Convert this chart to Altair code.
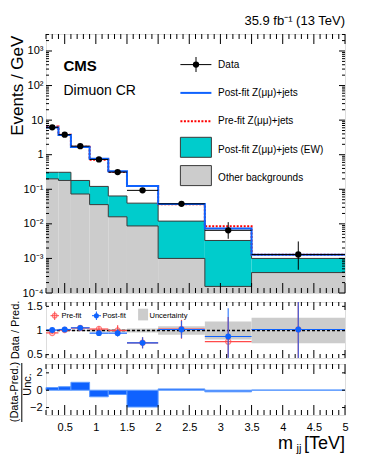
import altair as alt
import pandas as pd

FONT = "Liberation Sans"

# ---------------- data ----------------
edges = [0.2, 0.4, 0.6, 0.9, 1.2, 1.5, 2.0, 2.75, 3.5, 5.0]
centers = [0.3, 0.5, 0.75, 1.05, 1.35, 1.75, 2.375, 3.125, 4.25]

data_vals = [6.2, 3.8, 1.77, 0.73, 0.314, 0.093, 0.038, 0.0065, 0.0013]
data_up = [6.6, 4.05, 1.87, 0.78, 0.345, 0.104, 0.042, 0.0112, 0.0031]
data_dn = [5.8, 3.55, 1.67, 0.68, 0.285, 0.082, 0.034, 0.0037, 0.00047]
postfit = [6.1, 3.73, 1.68, 0.77, 0.332, 0.125, 0.0373, 0.0074, 0.00127]
prefit = [6.55, 3.76, 1.69, 0.71, 0.314, 0.125, 0.0369, 0.0085, 0.00127]
other_bkg = [0.20, 0.18, 0.073, 0.036, 0.016, 0.0087, 0.001, 0.000155, 0.00039]
ew_bkg = [0.11, 0.13, 0.107, 0.085, 0.048, 0.031, 0.011, 0.00315, 0.00061]

post_ratio = [1.01, 1.02, 1.055, 0.945, 0.945, 0.745, 1.02, 0.875, 1.02]
post_lo = [0.98, 0.99, 1.015, 0.90, 0.87, 0.63, 0.84, 0.30, 0.0]
post_hi = [1.04, 1.05, 1.095, 0.99, 1.02, 0.86, 1.20, 1.46, 2.0]
pre_ratio = [0.95, 1.01, 1.05, 1.03, 1.0, 0.745, 1.03, 0.77, 1.02]
pre_lo = [0.92, 0.98, 1.01, 0.98, 0.89, 0.63, 0.83, 0.44, 0.0]
pre_hi = [0.98, 1.04, 1.09, 1.08, 1.11, 0.86, 1.22, 1.28, 2.0]
unc_half = [0.01, 0.01, 0.015, 0.025, 0.03, 0.04, 0.088, 0.185, 0.265]
pull = [0.3, 0.4, 0.91, -0.76, -0.5, -1.94, 0.15, -0.19, 0.02]

legend_labels = ["Data", "Post-fit Z(μμ)+jets", "Pre-fit Z(μμ)+jets",
                 "Post-fit Z(μμ)+jets (EW)", "Other backgrounds"]
x_tick_labels = [0.5, 1, 1.5, 2, 2.5, 3, 3.5, 4, 4.5, 5]

# ---------------- tables ----------------
bins = pd.DataFrame({
    "lo": edges[:-1], "hi": edges[1:], "c": centers,
    "data": data_vals, "dup": data_up, "ddn": data_dn,
    "other": other_bkg,
    "bkg": [o + e for o, e in zip(other_bkg, ew_bkg)],
    "post_r": post_ratio, "post_lo": post_lo, "post_hi": post_hi,
    "pre_r": pre_ratio, "pre_lo": pre_lo, "pre_hi": pre_hi,
    "u_lo": [1 - u for u in unc_half], "u_hi": [1 + u for u in unc_half],
    "pull": pull,
})
steps = pd.DataFrame({
    "x": edges,
    "other": other_bkg + [other_bkg[-1]],
    "bkg": list(bins["bkg"]) + [bins["bkg"].iloc[-1]],
    "post": postfit + [postfit[-1]],
    "pre": prefit + [prefit[-1]],
})

W = 299
H_MAIN = 259
H_RAT = 56
H_PULL = 51

BLUE = "#0f62fe"
CYAN = "#00cccc"
GRAY = "#cccccc"
RED = "#ff4a4a"

xs = alt.Scale(domain=[0.2, 5.0], nice=False, zero=False)
ylog = alt.Scale(type="log", domain=[1e-4, 3100], nice=False)
yrat = alt.Scale(domain=[0.43, 1.59], nice=False, zero=False)
ypull = alt.Scale(domain=[-2.86, 3.02], nice=False, zero=False)

one = pd.DataFrame({"a": [0]})

log_expr = ("datum.value >= 999 ? '10³' : datum.value >= 99 ? '10²' : "
            "datum.value >= 9 ? '10' : datum.value >= 0.9 ? '1' : "
            "datum.value >= 0.09 ? '10⁻¹' : datum.value >= 0.009 ? '10⁻²' : "
            "datum.value >= 0.0009 ? '10⁻³' : '10⁻⁴'")
yaxis_main = alt.Axis(values=[1e-4, 1e-3, 1e-2, 1e-1, 1, 10, 100, 1000], labelExpr=log_expr,
                      ticks=False, domain=False, grid=False, title=None,
                      labelFontSize=11, labelPadding=3, labelColor="black", labelFont=FONT)
yaxis_rat = alt.Axis(values=[0.5, 1, 1.5], format="~g", ticks=False, domain=False, grid=False,
                     title=None, labelFontSize=11, labelPadding=4, labelColor="black", labelFont=FONT)
yaxis_pull = alt.Axis(values=[-2, 0, 2], format="~g", ticks=False, domain=False, grid=False,
                      title=None, labelFontSize=11, labelPadding=4, labelColor="black", labelFont=FONT)
xaxis_pull = alt.Axis(values=x_tick_labels, format="~g", ticks=False, domain=False, grid=False,
                      title=None, labelFontSize=11, labelPadding=6, labelColor="black",
                      labelFont=FONT, labelFlush=False)


def txt(text, x, y, size, align="left", baseline="middle", weight="normal", angle=0, color="black"):
    return alt.Chart(one).mark_text(text=text, font=FONT, fontSize=size, align=align,
                                    baseline=baseline, fontWeight=weight, angle=angle,
                                    color=color).encode(x=alt.value(x), y=alt.value(y))


def ticks(H, yscale, xaxis, yaxis, xmaj_len, xmin_len, ymaj, ymin, ymaj_len, ymin_len):
    xmaj = [0.5 * i for i in range(1, 11)]
    xmin = [round(0.1 * i, 1) for i in range(2, 50) if i % 5 != 0]
    layers = []
    for vals, L in ((xmaj, xmaj_len), (xmin, xmin_len)):
        d = pd.DataFrame({"v": vals})
        base = alt.Chart(d).mark_rule(color="black", strokeWidth=1)
        layers.append(base.encode(x=alt.X("v:Q", scale=xs, axis=xaxis),
                                  y=alt.value(H), y2=alt.value(H - L)))
        layers.append(base.encode(x=alt.X("v:Q", scale=xs, axis=xaxis),
                                  y=alt.value(0), y2=alt.value(L)))
    for vals, L in ((ymaj, ymaj_len), (ymin, ymin_len)):
        if not vals:
            continue
        d = pd.DataFrame({"v": vals})
        base = alt.Chart(d).mark_rule(color="black", strokeWidth=1)
        layers.append(base.encode(y=alt.Y("v:Q", scale=yscale, axis=yaxis),
                                  x=alt.value(0), x2=alt.value(L)))
        layers.append(base.encode(y=alt.Y("v:Q", scale=yscale, axis=yaxis),
                                  x=alt.value(W), x2=alt.value(W - L)))
    return layers


# ---------------- main panel ----------------
X = lambda f: alt.X(f"{f}:Q", scale=xs, axis=None)
YL = lambda f: alt.Y(f"{f}:Q", scale=ylog, axis=yaxis_main)

gray_fill = alt.Chart(bins).mark_rect(color=GRAY, clip=True).encode(
    x=X("lo"), x2="hi", y=YL("other"), y2=alt.value(H_MAIN))
cyan_fill = alt.Chart(bins).mark_rect(color=CYAN, clip=True).encode(
    x=X("lo"), x2="hi", y=YL("bkg"), y2="other")
step = lambda f, **kw: alt.Chart(steps).mark_line(interpolate="step-after", clip=True, **kw).encode(
    x=X("x"), y=YL(f))
other_line = step("other", color="#3a3a3a", strokeWidth=1)
bkg_line = step("bkg", color="#3a3a3a", strokeWidth=1)
pre_line = step("pre", color="#ff0000", strokeWidth=2, strokeDash=[2, 1.5])
post_line = step("post", color=BLUE, strokeWidth=2)

d_v = alt.Chart(bins).mark_rule(color="black", strokeWidth=1, clip=True).encode(
    x=X("c"), y=YL("ddn"), y2="dup")
d_h = alt.Chart(bins).mark_rule(color="black", strokeWidth=1, clip=True).encode(
    x=X("lo"), x2="hi", y=YL("data"))
d_p = alt.Chart(bins).mark_circle(color="black", size=40, opacity=1).encode(
    x=X("c"), y=YL("data"))

logmaj = [10.0 ** e for e in range(-4, 4)]
logmin = [m * 10.0 ** e for e in range(-4, 4) for m in range(2, 10) if m * 10.0 ** e < 3100]

LX0, LX1, LT = 134.4, 165.4, 172.1
legend = [
    alt.Chart(one).mark_rule(color="black", strokeWidth=1).encode(
        x=alt.value(LX0), x2=alt.value(LX1), y=alt.value(30.6)),
    alt.Chart(one).mark_rule(color="black", strokeWidth=1).encode(
        x=alt.value(150), y=alt.value(23), y2=alt.value(38)),
    alt.Chart(one).mark_circle(color="black", size=40, opacity=1).encode(
        x=alt.value(150), y=alt.value(30.6)),
    alt.Chart(one).mark_rule(color=BLUE, strokeWidth=2).encode(
        x=alt.value(LX0), x2=alt.value(LX1), y=alt.value(58.9)),
    alt.Chart(one).mark_rule(color="#ff0000", strokeWidth=2, strokeDash=[2, 1.5]).encode(
        x=alt.value(LX0), x2=alt.value(LX1), y=alt.value(87.3)),
    alt.Chart(one).mark_rect(color=CYAN, stroke="#3a3a3a", strokeWidth=1).encode(
        x=alt.value(LX0), x2=alt.value(LX1), y=alt.value(103.3), y2=alt.value(123.3)),
    alt.Chart(one).mark_rect(color=GRAY, stroke="#3a3a3a", strokeWidth=1).encode(
        x=alt.value(LX0), x2=alt.value(LX1), y=alt.value(131.6), y2=alt.value(151.6)),
]
for lab, yy in zip(legend_labels, [30.6, 58.9, 87.3, 115.6, 144.3]):
    legend.append(txt(lab, LT, yy, 10))

main = alt.layer(
    gray_fill, cyan_fill, other_line, bkg_line, pre_line, post_line, d_h, d_v, d_p,
    *ticks(H_MAIN, ylog, None, yaxis_main, 10, 5, logmaj, logmin, 6, 3),
    *legend,
    txt("CMS", 17.5, 31.6, 15, weight="bold"),
    txt("Dimuon CR", 17.5, 56.6, 14),
    txt("35.9 fb⁻¹ (13 TeV)", W, -12.9, 13, align="right"),
    txt("Events / GeV", -27.6, 1.6, 17, align="right", angle=270),
).properties(width=W, height=H_MAIN)

# ---------------- ratio panel ----------------
YR = lambda f: alt.Y(f"{f}:Q", scale=yrat, axis=yaxis_rat)
unc = alt.Chart(bins).mark_rect(color=GRAY).encode(x=X("lo"), x2="hi", y=YR("u_lo"), y2="u_hi")
ref = alt.Chart(pd.DataFrame({"r": [1.0]})).mark_rule(
    color="black", strokeDash=[3, 2], strokeWidth=1.5).encode(y=YR("r"))
pre_h = alt.Chart(bins).mark_rule(color=RED, strokeWidth=1.2, clip=True).encode(
    x=X("lo"), x2="hi", y=YR("pre_r"))
pre_v = alt.Chart(bins).mark_rule(color=RED, strokeWidth=1.2, clip=True).encode(
    x=X("c"), y=YR("pre_lo"), y2="pre_hi")
pre_p = alt.Chart(bins).mark_point(shape="circle", filled=False, color=RED, size=28,
                                   strokeWidth=1.2, clip=True).encode(x=X("c"), y=YR("pre_r"))
post_h = alt.Chart(bins).mark_rule(color=BLUE, strokeWidth=1.2, clip=True).encode(
    x=X("lo"), x2="hi", y=YR("post_r"))
post_v = alt.Chart(bins).mark_rule(color=BLUE, strokeWidth=1.2, opacity=0.8, clip=True).encode(
    x=X("c"), y=YR("post_lo"), y2="post_hi")
post_p = alt.Chart(bins).mark_circle(color=BLUE, size=34, opacity=1, clip=True).encode(
    x=X("c"), y=YR("post_r"))

rleg = [
    alt.Chart(one).mark_rule(color=RED, strokeWidth=1).encode(
        x=alt.value(4.5), x2=alt.value(13), y=alt.value(13.7)),
    alt.Chart(one).mark_rule(color=RED, strokeWidth=1).encode(
        x=alt.value(8.7), y=alt.value(9.5), y2=alt.value(18)),
    alt.Chart(one).mark_point(shape="circle", filled=False, color=RED, size=20, strokeWidth=1.2).encode(
        x=alt.value(8.7), y=alt.value(13.7)),
    txt("Pre-fit", 15.4, 13.7, 7.5),
    alt.Chart(one).mark_rule(color=BLUE, strokeWidth=1).encode(
        x=alt.value(46), x2=alt.value(55), y=alt.value(13.7)),
    alt.Chart(one).mark_rule(color=BLUE, strokeWidth=1).encode(
        x=alt.value(50.4), y=alt.value(9.5), y2=alt.value(18)),
    alt.Chart(one).mark_circle(color=BLUE, size=26, opacity=1).encode(
        x=alt.value(50.4), y=alt.value(13.7)),
    txt("Post-fit", 56.4, 13.7, 7.5),
    alt.Chart(one).mark_rect(color=GRAY).encode(
        x=alt.value(92.1), x2=alt.value(102.1), y=alt.value(6.7), y2=alt.value(18.4)),
    txt("Uncertainty", 103.5, 13.7, 7.5),
]

ratio = alt.layer(
    unc, ref, pre_h, pre_v, pre_p, post_h, post_v, post_p, *rleg,
    *ticks(H_RAT, yrat, None, yaxis_rat, 8, 4, [0.5, 1, 1.5], [], 3, 0),
    txt("Data / Pred.", -30.1, H_RAT / 2, 11, align="center", angle=270),
).properties(width=W, height=H_RAT)

# ---------------- pull panel ----------------
bars = alt.Chart(bins).mark_rect(color=BLUE, stroke="#5e9bff", strokeWidth=1).encode(
    x=alt.X("lo:Q", scale=xs, axis=xaxis_pull), x2="hi",
    y=alt.Y("pull:Q", scale=ypull, axis=yaxis_pull), y2=alt.datum(0))

pull_panel = alt.layer(
    bars,
    *ticks(H_PULL, ypull, xaxis_pull, yaxis_pull, 10, 5, [-2, 0, 2], [], 3, 0),
    txt("(Data-Pred.)", -30.6, H_PULL / 2 + 2.5, 11, align="center", angle=270),
    txt("Unc.", -17.6, H_PULL / 2 - 5, 11, align="center", angle=270),
    alt.Chart(one).mark_rule(color="black", strokeWidth=1).encode(
        x=alt.value(-24.2), y=alt.value(-1), y2=alt.value(58)),
    txt("[TeV]", W, H_PULL + 29, 18, align="right"),
    txt("jj", W - 43.5, H_PULL + 34, 11, align="right"),
    txt("m", W - 52, H_PULL + 29, 18, align="right"),
).properties(width=W, height=H_PULL)

chart = alt.vconcat(main, ratio, pull_panel, spacing=0).properties(
    padding={"left": 0, "top": 6, "right": 5, "bottom": 5}
).configure_view(stroke="black", strokeWidth=1).configure(font=FONT)

chart.save("out.html", embed_options={"renderer": "svg", "actions": False})
